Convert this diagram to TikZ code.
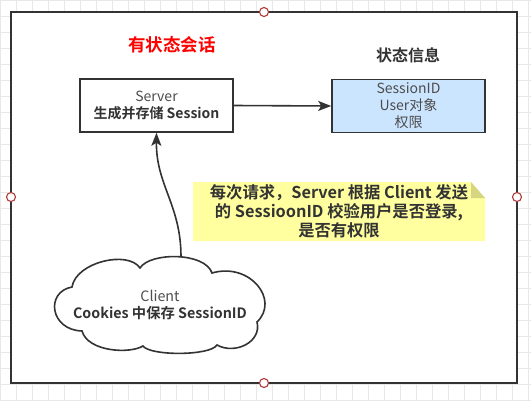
\documentclass[tikz,border=0pt]{standalone}
\usepackage{fontspec}
\setmainfont{Noto Sans CJK SC}[BoldFont={Noto Sans CJK SC Bold}]
\usetikzlibrary{arrows.meta}
\definecolor{linec}{HTML}{333333}
\definecolor{gridc}{HTML}{E8E8E8}
\definecolor{txtgray}{HTML}{4D4D4D}
\definecolor{notey}{RGB}{255,255,160}
\definecolor{notefold}{RGB}{214,214,128}
\definecolor{boxblue}{HTML}{CCE5FF}
\definecolor{handlec}{HTML}{B03A3A}
\tikzset{
  boxstyle/.style={draw=linec, line width=1.6pt, minimum width=153pt, minimum height=53pt, align=center, inner sep=0pt},
  conn/.style={draw=linec, line width=1.6pt, -{Stealth[length=13pt,width=10pt,inset=3pt]}},
  handle/.style={circle, draw=handlec, fill=white, line width=1.1pt, minimum size=9pt, inner sep=0pt},
  txt/.style={align=center, inner sep=0pt},
}
\begin{document}
\begin{tikzpicture}[x=1pt,y=-1pt]
\useasboundingbox (0,0) rectangle (531,400);
\fill[white] (0,0) rectangle (531,400);
% grid
\foreach \gx in {0,16,...,528} \draw[gridc, line width=0.8pt] (\gx,0) -- (\gx,400);
\foreach \gy in {0,16,...,400} \draw[gridc, line width=0.8pt] (0,\gy) -- (531,\gy);
% frame
\draw[linec, line width=1.6pt, fill=white] (11,12) rectangle (517,383);
\node[handle] (h1) at (264,12) {};
\node[handle] (h2) at (264,383) {};
\node[handle] (h3) at (11,197) {};
\node[handle] (h4) at (517,197) {};
% titles
\node[txt, text=red, font=\fontsize{17.5}{20}\selectfont\bfseries] (title) at (172,45) {有状态会话};
\node[txt, text=linec, font=\fontsize{16}{19}\selectfont\bfseries] (stitle) at (408,55) {状态信息};
% boxes
\node[boxstyle, fill=white, font=\fontsize{14}{17}\selectfont] (server) at (156.5,105.5)
  {\textcolor{txtgray}{Server}\\\textcolor{linec}{\bfseries 生成并存储 Session}};
\node[boxstyle, fill=boxblue, text=txtgray, font=\fontsize{14}{17}\selectfont] (sess) at (408.5,106)
  {SessionID\\User对象\\权限};
\draw[conn] (server.east) -- (sess.west);
% note
\fill[notey] (193,182) -- (471,182) -- (485,198) -- (485,241) -- (193,241) -- cycle;
\fill[notefold] (471,182) -- (485,198) -- (471,198) -- cycle;
\node[txt, text=linec, font=\fontsize{16.3}{19}\selectfont\bfseries] (note) at (339,211)
  {每次请求，Server 根据 Client 发送\\的 SessioonID 校验用户是否登录,\\是否有权限};
% cloud
\draw[linec, line width=1.6pt, fill=white]
  (72,287) .. controls (76,262) and (128,250) .. (140,268)
  .. controls (150,252) and (205,252) .. (212,273)
  .. controls (250,262) and (280,300) .. (257,322)
  .. controls (262,342) and (235,355) .. (217,345)
  .. controls (210,356) and (150,356) .. (143,346)
  .. controls (130,354) and (88,352) .. (82,331)
  .. controls (50,330) and (45,292) .. (72,287) -- cycle;
\node[txt, font=\fontsize{14.3}{17}\selectfont] (client) at (160,305)
  {\textcolor{txtgray}{Client}\\\textcolor{linec}{\bfseries Cookies 中保存 SessionID}};
\coordinate (cloudtop) at (181,257);
\draw[conn] (cloudtop) .. controls (181,205) and (156,185) .. (server.south);
\end{tikzpicture}
\end{document}
